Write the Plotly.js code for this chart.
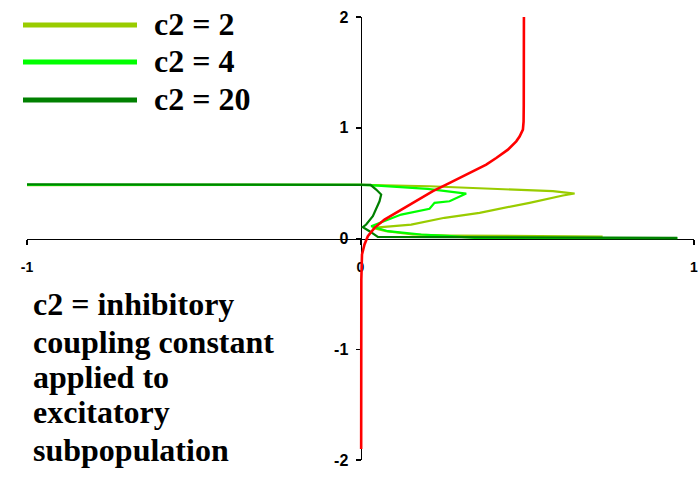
<!DOCTYPE html>
<html>
<head>
<meta charset="utf-8">
<script src="https://cdn.plot.ly/plotly-3.0.1.min.js"></script>
<style>
  html, body { margin: 0; padding: 0; background: #ffffff; }
  #chart { width: 698px; height: 479px; }
</style>
</head>
<body>
<div id="chart"></div>
<script>
// Series names and colours
const seriesNames = ['c2 = 2', 'c2 = 4', 'c2 = 20'];
const seriesColors = ['#99cc00', '#00ff00', '#008000'];

// c2 = 2 trajectory
const c2_2_x = [-1, 0.006, 0.207, 0.407, 0.577, 0.642, 0.607, 0.507, 0.427, 0.357, 0.252, 0.152, 0.072, 0.037, 0.077, 0.157, 0.267, 0.5, 0.726];
const c2_2_y = [0.482, 0.484, 0.472, 0.448, 0.427, 0.406, 0.388, 0.322, 0.277, 0.232, 0.187, 0.126, 0.105, 0.096, 0.066, 0.036, 0.027, 0.02, 0.018];

// c2 = 4 trajectory
const c2_4_x = [-1, 0.0, 0.051, 0.201, 0.317, 0.267, 0.222, 0.207, 0.122, 0.062, 0.032, 0.082, 0.182, 0.272, 0.342, 0.95];
const c2_4_y = [0.485, 0.485, 0.478, 0.448, 0.406, 0.336, 0.322, 0.268, 0.216, 0.142, 0.111, 0.066, 0.036, 0.021, 0.006, 0.004];

// c2 = 20 trajectory
const c2_20_x = [-1, 0.0, 0.03, 0.047, 0.062, 0.057, 0.037, 0.017, 0.007, 0.027, 0.052, 0.95];
const c2_20_y = [0.489, 0.488, 0.484, 0.442, 0.397, 0.336, 0.201, 0.126, 0.102, 0.066, 0.015, 0.005];

// red curve
const red_x = [0.002, 0.002, 0.0025, 0.0045, 0.012, 0.022, 0.042, 0.072, 0.122, 0.172, 0.217, 0.257, 0.317, 0.377, 0.407, 0.442, 0.467, 0.477, 0.487, 0.489, 0.4895, 0.49];
const red_y = [-1.9, -1.0, -0.37, -0.144, -0.054, 0.021, 0.096, 0.171, 0.262, 0.352, 0.427, 0.487, 0.577, 0.667, 0.727, 0.802, 0.877, 0.92, 0.983, 1.055, 1.2, 2.0];

// tick labels
const xTicks = [-1, 0, 1];
const yTicks = [-2, -1, 0, 1, 2];

// note text, one entry per line
const noteLines = ['c2 = inhibitory', 'coupling constant', 'applied to', 'excitatory', 'subpopulation'];

// plot area in pixels
const W = 698, H = 479;
const M = { l: 27, r: 4, t: 17, b: 19 };
const PW = W - M.l - M.r, PH = H - M.t - M.b;
const px2paper = p => (p - M.l) / PW;
const py2paper = p => (H - M.b - p) / PH;

const greenX = [c2_2_x, c2_4_x, c2_20_x];
const greenY = [c2_2_y, c2_4_y, c2_20_y];

const traces = [];
for (let i = 0; i < 3; i++) {
  traces.push({
    type: 'scatter', mode: 'lines', name: seriesNames[i],
    x: greenX[i], y: greenY[i],
    line: { color: seriesColors[i], width: 2.2 },
    showlegend: false, hoverinfo: 'skip'
  });
}
traces.push({
  type: 'scatter', mode: 'lines', name: 'red',
  x: red_x, y: red_y,
  line: { color: '#ff0000', width: 2.6 },
  showlegend: false, hoverinfo: 'skip'
});

// legend swatches and labels
const shapes = [];
const annotations = [];
const legendRows = [25, 62, 100];
for (let i = 0; i < 3; i++) {
  shapes.push({
    type: 'line', xref: 'paper', yref: 'paper',
    x0: px2paper(23), x1: px2paper(137),
    y0: py2paper(legendRows[i]), y1: py2paper(legendRows[i]),
    line: { color: seriesColors[i], width: 5 }
  });
  annotations.push({
    xref: 'paper', yref: 'paper', x: px2paper(152), y: py2paper(legendRows[i] - 1),
    xanchor: 'left', yanchor: 'middle', showarrow: false,
    text: '<b>' + seriesNames[i] + '</b>',
    font: { family: 'Liberation Serif', size: 32, color: '#000000' }
  });
}
const noteRows = [304, 342, 377, 412, 450];
for (let i = 0; i < noteLines.length; i++) {
  annotations.push({
    xref: 'paper', yref: 'paper', x: px2paper(31), y: py2paper(noteRows[i]),
    xanchor: 'left', yanchor: 'middle', showarrow: false,
    text: '<b>' + noteLines[i] + '</b>',
    font: { family: 'Liberation Serif', size: 32, color: '#000000' }
  });
}

const layout = {
  width: W, height: H,
  margin: M,
  paper_bgcolor: '#ffffff', plot_bgcolor: '#ffffff',
  showlegend: false,
  xaxis: {
    range: [-1, 1], autorange: false,
    anchor: 'free', position: 0.5,
    showline: true, linecolor: '#000000', linewidth: 1.5,
    showgrid: false, zeroline: false,
    ticks: 'outside', ticklen: 5, tickwidth: 1.5, tickcolor: '#000000',
    tickvals: xTicks, ticktext: xTicks.map(v => '<b>' + v + '</b>'),
    ticklabelstandoff: 10,
    ticklabeloverflow: 'allow',
    tickfont: { family: 'Liberation Sans', size: 14, color: '#000000' },
    layer: 'below traces', fixedrange: true
  },
  yaxis: {
    range: [-2, 2], autorange: false,
    anchor: 'free', position: 0.5,
    showline: true, linecolor: '#000000', linewidth: 1.5,
    showgrid: false, zeroline: false,
    ticks: 'outside', ticklen: 5, tickwidth: 1.5, tickcolor: '#000000',
    tickvals: yTicks, ticktext: yTicks.map(v => '<b>' + v + '</b>'),
    ticklabelstandoff: 4,
    ticklabeloverflow: 'allow',
    tickfont: { family: 'Liberation Sans', size: 16, color: '#000000' },
    layer: 'below traces', fixedrange: true
  },
  shapes: shapes,
  annotations: annotations
};

Plotly.newPlot('chart', traces, layout, { staticPlot: true, displayModeBar: false });
</script>
</body>
</html>
